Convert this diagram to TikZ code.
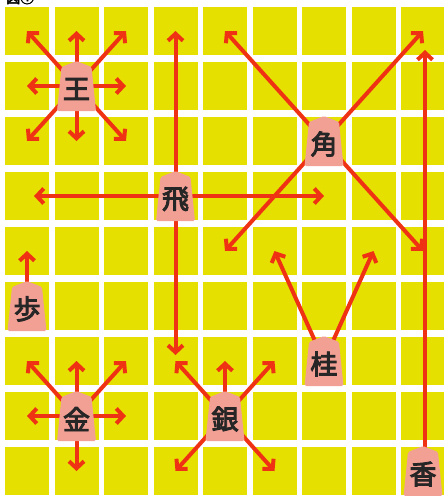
\documentclass[tikz,border=0pt]{standalone}
\usepackage{fontspec}
\newfontfamily\jp[FakeBold=3.5]{Noto Sans CJK JP}
\usetikzlibrary{arrows.meta}
\definecolor{boardyellow}{RGB}{230,224,0}
\definecolor{komapink}{RGB}{242,160,148}
\definecolor{arrowred}{RGB}{240,50,20}
\tikzset{
  cell/.style={fill=boardyellow},
  move/.style={draw=arrowred, line width=4pt, -{Straight Barb[length=7pt,width=15pt]}},
  kanji/.style={font=\jp\fontsize{27}{27}\selectfont, text=black!85, inner sep=0pt},
  figlabel/.style={font=\jp\fontsize{14}{14}\selectfont, text=black, inner sep=0pt, anchor=base west},
  koma/.pic={
    \fill[komapink, rounded corners=1.5pt] (0,-25) -- (15,-19) -- (19.5,25) -- (-19.5,25) -- (-15,-19) -- cycle;
    \node[kanji] (-k) at (0,3) {#1};
  }
}
\begin{document}
\begin{tikzpicture}[x=1pt,y=-1pt]
\useasboundingbox (0,0) rectangle (444,496);
% partially visible figure label
\begin{scope}
  \clip (0,0) rectangle (60,5);
  \node[figlabel] (zu) at (6,3) {図①};
\end{scope}
% board
\foreach \c in {1,...,9} {
  \foreach \r in {1,...,9} {
    \fill[cell] ({5+49.5*(\c-1)},{7+55*(\r-1)}) rectangle ++(44,48);
    \coordinate (c\c\r) at ({27+49.5*(\c-1)},{31+55*(\r-1)});
  }
}
% king
\foreach \t in {c11,c21,c31,c12,c32,c13,c23,c33} \draw[move] (c22) -- (\t);
% rook
\draw[move] (c44) -- (c41);
\draw[move, shorten >=7pt] (c44) -- (c14);
\draw[move] (c44) -- (c74);
\draw[move, shorten >=6pt] (c44) -- (c47);
% bishop
\foreach \t in {c51,c91,c55,c95} \draw[move] (c73) -- (\t);
% knight
\foreach \t in {c65,c85} \draw[move] (c77) -- (\t);
% pawn
\draw[move] (c16) -- (c15);
% gold
\foreach \t in {c17,c27,c37,c18,c38,c29} \draw[move] (c28) -- (\t);
% silver
\foreach \t in {c47,c57,c67,c49,c69} \draw[move] (c58) -- (\t);
% lance
\coordinate (kyobase) at ([shift={(2,0)}]c99);
\coordinate (kyotip) at ([shift={(2,19)}]c91);
\draw[move] (kyobase) -- (kyotip);
% pieces
\pic (ou) at (c22) {koma=王};
\pic (kaku) at (c73) {koma=角};
\pic (hi) at (c44) {koma=飛};
\pic (fu) at (c16) {koma=歩};
\pic (kei) at (c77) {koma=桂};
\pic (kin) at (c28) {koma=金};
\pic (gin) at (c58) {koma=銀};
\pic (kyo) at (c99) {koma=香};
\end{tikzpicture}
\end{document}
